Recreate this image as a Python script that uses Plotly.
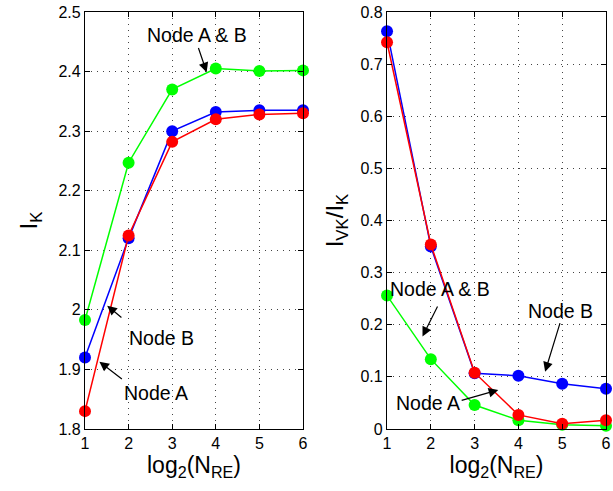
import plotly.graph_objects as go

x_vals = [1, 2, 3, 4, 5, 6]

# Left panel: I_K
ik_ab = [1.983, 2.247, 2.370, 2.405, 2.401, 2.402]
ik_b = [1.920, 2.120, 2.300, 2.332, 2.335, 2.335]
ik_a = [1.830, 2.125, 2.282, 2.320, 2.328, 2.330]

# Right panel: I_VK / I_K
r_ab = [0.256, 0.134, 0.046, 0.017, 0.008, 0.006]
r_b = [0.763, 0.350, 0.107, 0.102, 0.087, 0.077]
r_a = [0.742, 0.354, 0.108, 0.027, 0.010, 0.017]

left_ticks = [1.8, 1.9, 2.0, 2.1, 2.2, 2.3, 2.4, 2.5]
left_ticktext = ["1.8", "1.9", "2", "2.1", "2.2", "2.3", "2.4", "2.5"]
right_ticks = [0, 0.1, 0.2, 0.3, 0.4, 0.5, 0.6, 0.7, 0.8]
right_ticktext = ["0", "0.1", "0.2", "0.3", "0.4", "0.5", "0.6", "0.7", "0.8"]

GREEN = "#00ff00"
BLUE = "#0000ff"
RED = "#ff0000"
FONT = "Liberation Sans, Arial, Helvetica, sans-serif"

fig = go.Figure()


def add_series(x, y, color, xa, ya):
    fig.add_trace(go.Scatter(
        x=x, y=y, mode="lines+markers", xaxis=xa, yaxis=ya,
        line=dict(color=color, width=1.5),
        marker=dict(color=color, size=12),
        showlegend=False, cliponaxis=False, hoverinfo="skip",
    ))


add_series(x_vals, ik_ab, GREEN, "x", "y")
add_series(x_vals, ik_b, BLUE, "x", "y")
add_series(x_vals, ik_a, RED, "x", "y")
add_series(x_vals, r_ab, GREEN, "x2", "y2")
add_series(x_vals, r_b, BLUE, "x2", "y2")
add_series(x_vals, r_a, RED, "x2", "y2")

axis_common = dict(
    showline=True, linecolor="black", linewidth=1.2, mirror="allticks",
    ticks="inside", ticklen=5, tickcolor="black",
    showgrid=True, gridcolor="#444444", griddash="1px,5px", gridwidth=1,
    zeroline=False, automargin=False,
    tickfont=dict(family=FONT, size=16, color="black"),
)

xtitle = dict(text="log<sub>2</sub>(N<sub>RE</sub>)",
              font=dict(family=FONT, size=23, color="black"), standoff=4)

fig.update_layout(
    width=613, height=491,
    margin=dict(l=85, r=7, t=12, b=62),
    paper_bgcolor="white", plot_bgcolor="white",
    xaxis=dict(domain=[0, 0.4184], range=[1, 6], tickvals=x_vals,
               title=xtitle, **axis_common),
    yaxis=dict(domain=[0, 1], range=[1.8, 2.5], tickvals=left_ticks,
               ticktext=left_ticktext,
               title=dict(text="I<sub>K</sub>", font=dict(family=FONT, size=24, color="black"), standoff=14),
               **axis_common),
    xaxis2=dict(domain=[0.5797, 1], range=[1, 6], tickvals=x_vals,
                title=xtitle, anchor="y2", **axis_common),
    yaxis2=dict(domain=[0, 1], range=[0, 0.8], tickvals=right_ticks,
                ticktext=right_ticktext, anchor="x2",
                title=dict(text="I<sub>VK</sub>/I<sub>K</sub>", font=dict(family=FONT, size=24, color="black"), standoff=10),
                **axis_common),
)

# (text, text_x, text_y, head_x, head_y, tail_x, tail_y, xref, yref)
notes = [
    ("Node A &amp; B", 3.57, 2.461, 3.79, 2.399, 3.59, 2.442, "x", "y"),
    ("Node B", 2.76, 1.952, 1.51, 2.007, 1.87, 1.985, "x", "y"),
    ("Node A", 2.63, 1.861, 1.33, 1.913, 1.88, 1.882, "x", "y"),
    ("Node A &amp; B", 2.21, 0.269, 1.81, 0.1775, 2.17, 0.238, "x2", "y2"),
    ("Node B", 4.97, 0.227, 4.61, 0.110, 4.96, 0.206, "x2", "y2"),
    ("Node A", 1.94, 0.049, 3.54, 0.075, 2.67, 0.054, "x2", "y2"),
]

for text, tx, ty, hx, hy, ax, ay, xr, yr in notes:
    fig.add_annotation(x=hx, y=hy, ax=ax, ay=ay, xref=xr, yref=yr,
                       axref=xr, ayref=yr, text="", showarrow=True,
                       arrowhead=2, arrowsize=1.6, arrowwidth=1.2,
                       arrowcolor="black")
    fig.add_annotation(x=tx, y=ty, xref=xr, yref=yr, text=text,
                       showarrow=False,
                       font=dict(family=FONT, size=19.5, color="black"))

fig.write_html(
    "out.html",
    config={"displayModeBar": False},
    post_script="document.body.style.margin='0';document.body.style.overflow='hidden';",
)
